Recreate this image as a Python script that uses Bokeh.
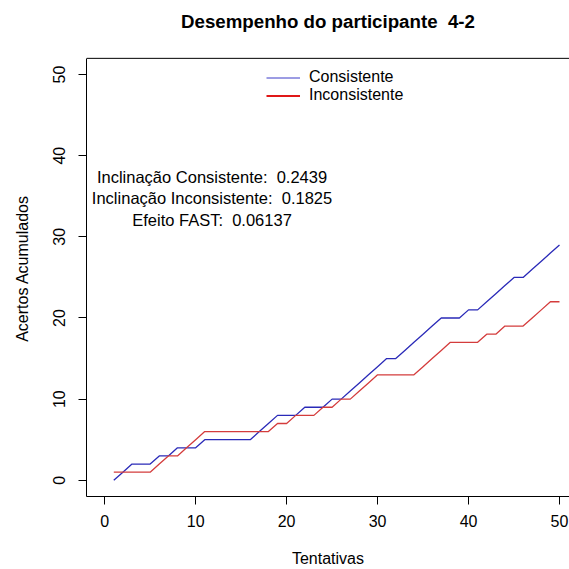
from bokeh.plotting import figure
from bokeh.models import (Range1d, LinearAxis, FixedTicker, Legend, LegendItem,
                          ColumnDataSource, Span)
from bokeh.embed import file_html
from bokeh.resources import INLINE
from bokeh.core.properties import value

# ---- data ----
trials = list(range(1, 51))
consistente = [0, 1, 2, 2, 2, 3, 3, 4, 4, 4,
               5, 5, 5, 5, 5, 5, 6, 7, 8, 8,
               8, 9, 9, 9, 10, 10, 11, 12, 13, 14,
               15, 15, 16, 17, 18, 19, 20, 20, 20, 21,
               21, 22, 23, 24, 25, 25, 26, 27, 28, 29]
inconsistente = [1, 1, 1, 1, 1, 2, 3, 3, 4, 5,
                 6, 6, 6, 6, 6, 6, 6, 6, 7, 7,
                 8, 8, 8, 9, 9, 10, 10, 11, 12, 13,
                 13, 13, 13, 13, 14, 15, 16, 17, 17, 17,
                 17, 18, 18, 19, 19, 19, 20, 21, 22, 22]
x_ticks = [0, 10, 20, 30, 40, 50]
y_ticks = [0, 10, 20, 30, 40, 50]
series_names = ["Consistente", "Inconsistente"]
stat_labels = ["Inclinação Consistente:", "Inclinação Inconsistente:", "Efeito FAST:"]
stat_values = ["0.2439", "0.1825", "0.06137"]
title_text = "Desempenho do participante \u00a04-2"
x_label = "Tentativas"
y_label = "Acertos Acumulados"

FONT = "Liberation Sans"
BLUE = "#2a2ab8"
RED = "#d43c3c"
LEG_RED = "#e01818"
LEG_BLUE = "#3a3ac8"

# plot box in data units (R style: limits 0..50 padded by 4%)
BOX_BOTTOM, BOX_TOP = -2, 52

p = figure(width=569, height=569, output_backend="svg", toolbar_location=None,
           x_range=Range1d(-2, 51.1), y_range=Range1d(BOX_BOTTOM, 54.2),
           x_axis_location=None, y_axis_location=None,
           min_border_left=86, min_border_right=0, min_border_top=40,
           min_border_bottom=73)
p.outline_line_color = None
p.xgrid.visible = False
p.ygrid.visible = False
p.background_fill_color = "white"
p.border_fill_color = "white"

def style_axis(ax):
    ax.axis_line_color = "black"
    ax.axis_line_width = 1
    ax.major_tick_line_color = "black"
    ax.major_tick_out = 8
    ax.major_tick_in = 0
    ax.minor_tick_line_color = None
    ax.major_label_text_font = FONT
    ax.major_label_text_font_size = "16px"
    ax.major_label_text_color = "black"
    ax.axis_label_text_font = FONT
    ax.axis_label_text_font_size = "16px"
    ax.axis_label_text_font_style = "normal"
    ax.axis_label_text_color = "black"

xa = LinearAxis(ticker=FixedTicker(ticks=x_ticks), axis_label=x_label)
style_axis(xa)
xa.major_label_standoff = 10
xa.axis_label_standoff = 20
p.add_layout(xa, "below")

ya = LinearAxis(ticker=FixedTicker(ticks=y_ticks), axis_label=y_label,
                bounds=(BOX_BOTTOM, BOX_TOP))
style_axis(ya)
ya.major_label_orientation = "vertical"
ya.major_label_standoff = 13
ya.axis_label_standoff = 20
p.add_layout(ya, "left")

# chart title (as the axis label of a tick-less, line-less top axis)
top = LinearAxis(ticker=FixedTicker(ticks=[]), axis_label=title_text)
top.axis_line_color = None
top.major_tick_line_color = None
top.major_tick_out = 0
top.major_tick_in = 0
top.minor_tick_line_color = None
top.minor_tick_out = 0
top.major_label_standoff = 0
top.axis_label_standoff = 9
top.axis_label_text_font = FONT
top.axis_label_text_font_size = "18.7px"
top.axis_label_text_font_style = "bold"
top.axis_label_text_color = "black"
p.add_layout(top, "above")

# top edge of the plot box, well inside the frame
p.add_layout(Span(location=BOX_TOP, dimension="width",
                  line_color="black", line_width=1))

src = ColumnDataSource(dict(x=trials, c=consistente, i=inconsistente))
r_blue = p.line("x", "c", source=src, line_color=BLUE, line_width=1.3)
r_red = p.line("x", "i", source=src, line_color=RED, line_width=1.3)

# legend proxies (thin blue, thick red as in the reference legend), not drawn
leg_blue = p.line("x", "c", source=src, line_color=LEG_BLUE, line_width=1, visible=False)
leg_red = p.line("x", "i", source=src, line_color=LEG_RED, line_width=2.2, visible=False)

legend = Legend(items=[LegendItem(label=series_names[0], renderers=[leg_blue]),
                       LegendItem(label=series_names[1], renderers=[leg_red])],
                location=(180, 392), orientation="vertical",
                border_line_color=None, background_fill_alpha=0,
                padding=0, margin=0, spacing=0,
                glyph_width=34, glyph_height=17, label_height=17,
                label_standoff=9, label_text_font=FONT,
                label_text_font_size="16px", label_text_color="black")
p.add_layout(legend)

annotation = "\n".join(f"{l} \u00a0{v}" for l, v in zip(stat_labels, stat_values))
p.text(x=[11.8], y=[34.75], text=[annotation], text_align="center",
       text_baseline="middle", text_font=value(FONT), text_font_size="16.5px",
       text_color="black", text_line_height=1.18)

open("out.html", "w").write(file_html(p, INLINE))
